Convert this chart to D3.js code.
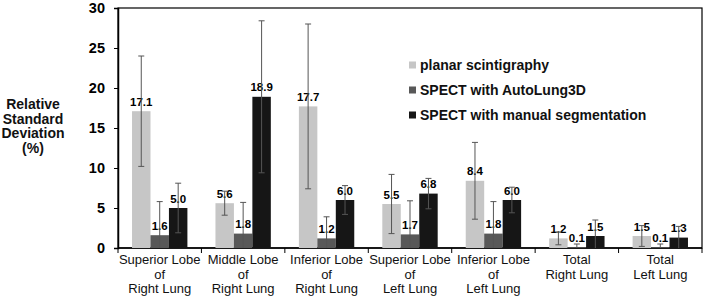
<!DOCTYPE html>
<html>
<head>
<meta charset="utf-8">
<script src="https://cdn.jsdelivr.net/npm/d3@7"></script>
<style>
  body { margin: 0; background: white; }
  svg { display: block; }
</style>
</head>
<body>
<script>
const categories = [
    ["Superior Lobe", "of", "Right Lung"],
    ["Middle Lobe", "of", "Right Lung"],
    ["Inferior Lobe", "of", "Right Lung"],
    ["Superior Lobe", "of", "Left Lung"],
    ["Inferior Lobe", "of", "Left Lung"],
    ["Total", "Right Lung"],
    ["Total", "Left Lung"]
];
const seriesNames = ["planar scintigraphy", "SPECT with AutoLung3D", "SPECT with manual segmentation"];
const planar = [17.1, 5.6, 17.7, 5.5, 8.4, 1.2, 1.5];
const autoLung = [1.6, 1.8, 1.2, 1.7, 1.8, 0.1, 0.1];
const manual = [5.0, 18.9, 6.0, 6.8, 6.0, 1.5, 1.3];
const planarErr = [6.9, 1.5, 10.3, 3.7, 4.8, 0.8, 1.3];
const autoLungErr = [4.2, 3.9, 2.7, 4.2, 4.0, 0.4, 0.4];
const manualErr = [3.1, 9.5, 1.8, 1.9, 1.6, 2.0, 1.4];
const yTicks = [0, 5, 10, 15, 20, 25, 30];

const colors = ["#c6c6c6", "#585858", "#161616"];
const values = [planar, autoLung, manual];
const errs = [planarErr, autoLungErr, manualErr];

const W = 708, H = 300;
const mLeft = 118, mRight = 702, mTop = 8, mBottom = 248;
const font = "Liberation Sans, Arial, sans-serif";

const svg = d3.select("body").append("svg")
    .attr("width", W)
    .attr("height", H);

const x0 = d3.scaleBand()
    .domain(d3.range(categories.length))
    .range([mLeft, mRight]);
const x1 = d3.scaleBand()
    .domain(d3.range(seriesNames.length))
    .range([0, x0.bandwidth()])
    .paddingOuter(0.76);
const y = d3.scaleLinear().domain([0, 30]).range([mBottom, mTop]);

// frame
svg.append("rect")
    .attr("x", mLeft).attr("y", mTop)
    .attr("width", mRight - mLeft).attr("height", mBottom - mTop)
    .attr("fill", "none").attr("stroke", "#000").attr("stroke-width", 1.2);

// y axis
const yAxis = svg.append("g")
    .attr("transform", `translate(${mLeft},0)`)
    .call(d3.axisLeft(y).tickValues(yTicks).tickSize(4).tickPadding(9));
yAxis.select(".domain").attr("stroke-width", 1.5);
yAxis.selectAll("text")
    .attr("font-family", font)
    .attr("font-weight", "bold")
    .attr("font-size", 14.5)
    .attr("fill", "#000");

// x axis ticks at category boundaries
const xb = svg.append("g");
xb.append("line")
    .attr("x1", mLeft).attr("x2", mRight)
    .attr("y1", mBottom).attr("y2", mBottom)
    .attr("stroke", "#000").attr("stroke-width", 1.5);
xb.selectAll(".xt")
    .data(d3.range(categories.length + 1))
    .join("line")
    .attr("x1", i => mLeft + i * x0.step())
    .attr("x2", i => mLeft + i * x0.step())
    .attr("y1", mBottom).attr("y2", mBottom + 5)
    .attr("stroke", "#000");

// category labels
const catG = svg.append("g")
    .attr("font-family", font)
    .attr("font-size", 13)
    .attr("text-anchor", "middle")
    .attr("fill", "#111");
categories.forEach((lines, i) => {
    const t = catG.append("text");
    lines.forEach((ln, k) => {
        t.append("tspan")
            .attr("x", x0(i) + x0.bandwidth() / 2)
            .attr("y", 264 + k * 14.5)
            .text(ln);
    });
});

// bars
const groups = svg.append("g");
values.forEach((vals, s) => {
    groups.selectAll(".bar" + s)
        .data(vals)
        .join("rect")
        .attr("class", "bar" + s)
        .attr("x", (d, i) => x0(i) + x1(s))
        .attr("y", d => y(d))
        .attr("width", x1.bandwidth())
        .attr("height", d => y(0) - y(d))
        .attr("fill", colors[s]);
});

// value labels
values.forEach((vals, s) => {
    svg.append("g").selectAll("text")
        .data(vals)
        .join("text")
        .attr("x", (d, i) => x0(i) + x1(s) + x1.bandwidth() / 2)
        .attr("y", d => y(d) - 5.5)
        .attr("text-anchor", "middle")
        .attr("font-family", font)
        .attr("font-weight", "bold")
        .attr("font-size", 11.5)
        .attr("fill", "#000")
        .text(d => d.toFixed(1));
});

// error bars
values.forEach((vals, s) => {
    vals.forEach((v, i) => {
        const cx = x0(i) + x1(s) + x1.bandwidth() / 2;
        const hi = v + errs[s][i];
        const lo = Math.max(0, v - errs[s][i]);
        const g = svg.append("g").attr("stroke", "#555").attr("stroke-width", 1);
        g.append("line").attr("x1", cx).attr("x2", cx).attr("y1", y(hi)).attr("y2", y(lo));
        g.append("line").attr("x1", cx - 3).attr("x2", cx + 3).attr("y1", y(hi)).attr("y2", y(hi));
        if (v - errs[s][i] > 0) {
            g.append("line").attr("x1", cx - 3).attr("x2", cx + 3).attr("y1", y(lo)).attr("y2", y(lo));
        }
    });
});

// y title
const yt = svg.append("text")
    .attr("text-anchor", "middle")
    .attr("font-family", font)
    .attr("font-weight", "bold")
    .attr("font-size", 14)
    .attr("fill", "#111");
["Relative", "Standard", "Deviation", "(%)"].forEach((ln, k) => {
    yt.append("tspan").attr("x", 33).attr("y", 109 + k * 14.5).text(ln);
});

// legend
const leg = svg.append("g")
    .attr("font-family", font)
    .attr("font-weight", "bold")
    .attr("font-size", 14)
    .attr("fill", "#111");
seriesNames.forEach((name, s) => {
    const ly = 65 + s * 25;
    leg.append("rect")
        .attr("x", 409).attr("y", ly - 3.5)
        .attr("width", 7).attr("height", 7)
        .attr("fill", colors[s]);
    leg.append("text")
        .attr("x", 420).attr("y", ly + 5)
        .text(name);
});
</script>
</body>
</html>
